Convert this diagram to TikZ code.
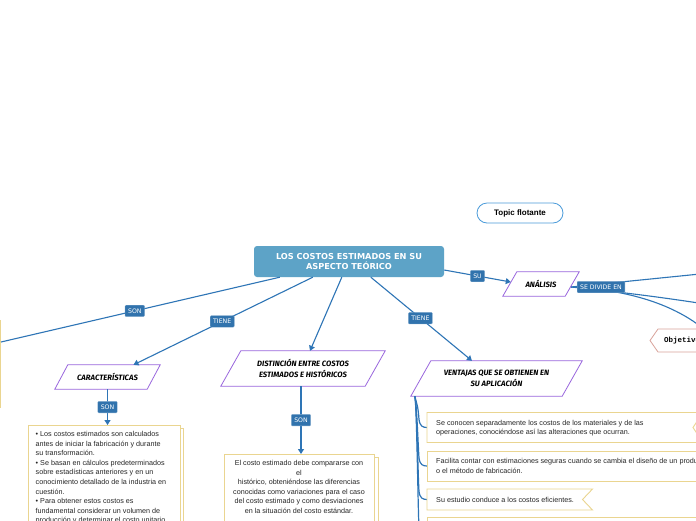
\documentclass[tikz,border=0pt]{standalone}
\usepackage{fontspec}
\setmainfont{Liberation Sans}
\newfontfamily\handf{Fira Sans}
\newfontfamily\monof{Liberation Mono}
\newfontfamily\verd{DejaVu Sans}
\usetikzlibrary{arrows.meta,calc}
\definecolor{lineblue}{HTML}{2E75B6}
\definecolor{lblblue}{HTML}{3173AD}
\definecolor{mainblue}{HTML}{5DA3C7}
\definecolor{topicblue}{HTML}{4A9BDA}
\definecolor{purp}{HTML}{9966DD}
\definecolor{ybord}{HTML}{EAD590}
\definecolor{salmon}{HTML}{D9A39B}
\tikzset{
  conn/.style={draw=lineblue, line width=1.1pt},
  arr/.style={conn, -{Triangle[length=5pt,width=6pt]}},
  lbl/.style={fill=lblblue, text=white, font=\verd\fontsize{6.2}{6.2}\selectfont, rounded corners=1pt, inner xsep=3pt, inner ysep=0pt, minimum height=11.5pt, draw=lblblue!60!white, line width=0.3pt},
  mainbox/.style={fill=mainblue, text=white, rounded corners=3pt, minimum width=190pt, minimum height=31pt, align=center, inner sep=0pt, font=\verd\bfseries\fontsize{8.2}{10.5}\selectfont},
  pgtext/.style={inner sep=0pt, align=center, font=\handf\bfseries\itshape\fontsize{7.7}{11}\selectfont},
  pg/.style={draw=purp, line width=0.8pt, fill=white},
  ybox/.style={draw=ybord, line width=0.9pt, fill=white},
  btext/.style={inner sep=0pt, font=\fontsize{7.2}{9.6}\selectfont, text=black!85},
}
\newcommand\pgram[2]{\draw[pg] ($(#1.north west)+(#2,0)$) -- (#1.north east) -- ($(#1.south east)-(#2,0)$) -- (#1.south west) -- cycle;}
\begin{document}
\begin{tikzpicture}[x=1pt,y=-1pt]
\useasboundingbox (0,0) rectangle (696,520);
\clip (0,0) rectangle (696,520);
\fill[white] (0,0) rectangle (696,520);

% nodes (boxes)
\node[mainbox] (main) at (349,261.5) {LOS COSTOS ESTIMADOS EN SU\\ASPECTO TEÓRICO};
\node[draw=topicblue, line width=0.8pt, rounded corners=10pt, minimum width=86pt, minimum height=20pt, inner sep=0pt, font=\bfseries\fontsize{8}{9}\selectfont] (topic) at (520,213) {Topic flotante};

% parallelogram shapes
\node[minimum width=76pt, minimum height=24pt, inner sep=0pt] (ana) at (541,284) {};
\node[minimum width=105pt, minimum height=24pt, inner sep=0pt] (car) at (107.5,377) {};
\node[minimum width=164pt, minimum height=35pt, inner sep=0pt] (dis) at (303,368.5) {};
\node[minimum width=171pt, minimum height=35pt, inner sep=0pt] (ven) at (496.5,378.5) {};

% left clipped box
\node[ybox, minimum width=80pt, minimum height=87pt, inner sep=0pt, anchor=north east] (lbox) at (1,320) {};

% Objetivo
\coordinate (obj) at (650,340.5);
\draw[draw=salmon, line width=0.8pt, fill=white] (obj) -- ++(8,-11.5) -- ++(80,0) -- ++(8,11.5) -- ++(-8,11.5) -- ++(-80,0) -- cycle;
\node[anchor=west, inner sep=0pt, font=\monof\bfseries\fontsize{7.5}{8}\selectfont] (objt) at (664,340.5) {Objetivo};

% SE DIVIDE EN connectors
\coordinate (r1) at (705,273.5);
\coordinate (r2) at (705,304);
\coordinate (r3) at (705,330);
\draw[conn] ($(ana.east)+(-8,3)$) -- (r1);
\draw[conn] ($(ana.east)+(-8,3)$) .. controls (620,292) and (660,297) .. (r2);
\draw[conn] ($(ana.east)+(-8,3)$) .. controls (630,290) and (675,305) .. (r3);
\node[lbl] (sediv) at (601,287) {SE DIVIDE EN};

\pgram{ana}{14}
\pgram{car}{13}
\pgram{dis}{20}
\pgram{ven}{20}
\node[pgtext] (anat) at (ana) {ANÁLISIS};
\node[pgtext] (cart) at (car) {CARACTERÍSTICAS};
\node[pgtext] (dist) at (dis) {DISTINCIÓN ENTRE COSTOS\\ESTIMADOS E HISTÓRICOS};
\node[pgtext] (vent) at (ven) {VENTAJAS QUE SE OBTIENEN EN\\SU APLICACIÓN};

% boxes with stacked paper
\draw[ybox] (31,428) rectangle (183,540);
\node[ybox, minimum width=152pt, minimum height=115pt, inner sep=0pt, anchor=north west] (cbox) at (28,425) {};
\node[btext, anchor=north west, align=left] (ctext) at (35.5,431) {• Los costos estimados son calculados\\antes de iniciar la fabricación y durante\\su transformación.\\• Se basan en cálculos predeterminados\\sobre estadísticas anteriores y en un\\conocimiento detallado de la industria en\\cuestión.\\• Para obtener estos costos es\\fundamental considerar un volumen de\\producción y determinar el costo unitario};

\draw[ybox] (227,457) rectangle (378,540);
\node[ybox, minimum width=150pt, minimum height=85pt, inner sep=0pt, anchor=north west] (dbox) at (224,454) {};
\node[btext, anchor=north, align=center] (dtext) at (299,460) {El costo estimado debe compararse con\\el\\histórico, obteniéndose las diferencias\\conocidas como variaciones para el caso\\del costo estimado y como desviaciones\\en la situación del costo estándar.};

% ventajas list
\coordinate (vb1) at (427,427.5);
\coordinate (vb2) at (427,466);
\coordinate (vb3) at (427,499.5);
\coordinate (vb4) at (427,535);
\coordinate (vtr) at ($(ven.south west)+(4,0)$);
\foreach \c in {vb1,vb2,vb3,vb4}{
  \draw[conn, line width=1.2pt] (vtr) .. controls ($(vtr)+(2,8)$) and ($(\c)+(-9,-22)$) .. ($(\c)+(-8,-8)$) .. controls ($(\c)+(-7,-1)$) and ($(\c)+(-4,0)$) .. (\c);
}
\draw[ybox] (427,412.5) -- (703,412.5) -- (693,427.5) -- (703,442.5) -- (427,442.5) -- cycle;
\draw[ybox] (427,451) -- (720,451) -- (720,481) -- (427,481) -- cycle;
\draw[ybox] (427,489) -- (592.5,489) -- (582.5,499.5) -- (592.5,510) -- (427,510) -- cycle;
\draw[ybox] (427,517.5) -- (720,517.5) -- (720,560) -- (427,560) -- cycle;
\node[btext, anchor=west, align=left] (vt1) at (436,428) {Se conocen separadamente los costos de los materiales y de las\\operaciones, conociéndose así las alteraciones que ocurran.};
\node[btext, anchor=west, align=left] (vt2) at (436,466) {Facilita contar con estimaciones seguras cuando se cambia el diseño de un producto\\o el método de fabricación.};
\node[btext, anchor=west, align=left] (vt3) at (436,500) {Su estudio conduce a los costos eficientes.};

% connectors from main
\draw[arr] ($(main.east)+(0,8.5)$) -- node[lbl, pos=0.5] (su) {SU} ($(ana.west)+(8,-2)$);
\draw[conn] ($(main.south west)+(26,0)$) -- node[lbl, pos=0.52] (son1) {SON} (lbox.east |- 0,342);
\draw[arr] ($(main.south west)+(59,0)$) -- node[lbl, pos=0.505] (tiene1) {TIENE} ($(car.north)+(26,0)$);
\draw[arr] ($(main.south west)+(88,0)$) -- ($(dis.north)+(7,0)$);
\draw[arr] ($(main.south west)+(117,0)$) -- node[lbl, pos=0.49] (tiene2) {TIENE} ($(ven.north)+(-24.5,0)$);
\draw[arr] (car.south) -- node[lbl, pos=0.5] (son2) {SON} (cbox.north -| car.south);
\draw[arr] ($(dis.south)+(-2,0)$) -- node[lbl, pos=0.5] (son3) {SON} ($(dbox.north -| dis.south)+(-2,0)$);
\end{tikzpicture}
\end{document}
